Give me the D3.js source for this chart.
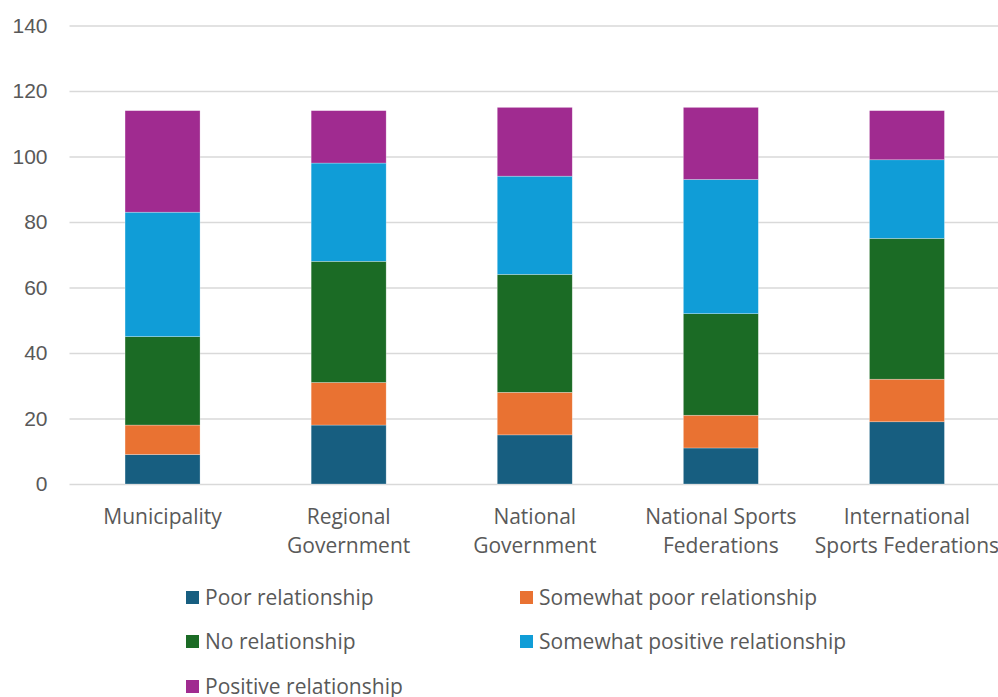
<!DOCTYPE html>
<html>
<head>
<meta charset="utf-8">
<script src="https://cdn.jsdelivr.net/npm/d3@7"></script>
<style>
  html, body { margin: 0; padding: 0; background: #fff; }
  svg { display: block; font-family: "Open Sans", "Noto Sans", sans-serif; }
</style>
</head>
<body>
<svg id="chart" width="998" height="697"></svg>
<script>
// Stakeholder groups along the x axis (each label split into its two lines)
const categories = ["Municipality", "Regional Government", "National Government", "National Sports Federations", "International Sports Federations"];
const categoryLines = [["Municipality"], ["Regional", "Government"], ["National", "Government"], ["National Sports", "Federations"], ["International", "Sports Federations"]];

// Relationship ratings, stacked bottom to top
const seriesNames = ["Poor relationship", "Somewhat poor relationship", "No relationship", "Somewhat positive relationship", "Positive relationship"];
const poor            = [9, 18, 15, 11, 19];
const somewhatPoor    = [9, 13, 13, 10, 13];
const noRelationship  = [27, 37, 36, 31, 43];
const somewhatPositive= [38, 30, 30, 41, 24];
const positive        = [31, 16, 21, 22, 15];
const seriesColors = ["#175E80", "#E97232", "#1B6B25", "#109DD7", "#A02B90"];

const yTicks = [0, 20, 40, 60, 80, 100, 120, 140];

const seriesValues = [poor, somewhatPoor, noRelationship, somewhatPositive, positive];
const rows = categories.map((c, i) => {
  const r = { category: c };
  seriesNames.forEach((s, k) => r[s] = seriesValues[k][i]);
  return r;
});

const svg = d3.select("#chart");
const margin = { left: 69.5, top: 25.5 };
const plotW = 930.5, plotH = 458.5;
const fontSize = "21px";

const x = d3.scaleBand().domain(categories).range([margin.left, margin.left + plotW]).paddingInner(0.597).paddingOuter(0.2985);
const y = d3.scaleLinear().domain([0, 140]).range([margin.top + plotH, margin.top]);

// Horizontal gridlines and left tick labels
const yAxis = d3.axisLeft(y).tickValues(yTicks).tickSize(-1000).tickPadding(24);
const gy = svg.append("g").attr("transform", `translate(${margin.left},0)`).call(yAxis);
gy.select(".domain").remove();
gy.selectAll(".tick line").attr("x2", 1000).attr("stroke", "#D9D9D9").attr("stroke-width", 1.3);
gy.selectAll(".tick text").attr("fill", "#595959").style("font-size", fontSize).attr("x", -22);

// Stacked bars
const stack = d3.stack().keys(seriesNames)(rows);
svg.append("g").selectAll("g").data(stack).join("g")
  .attr("fill", (d, i) => seriesColors[i])
  .selectAll("rect").data(d => d).join("rect")
  .attr("x", d => x(d.data.category))
  .attr("width", x.bandwidth())
  .attr("y", d => y(d[1]))
  .attr("height", d => y(d[0]) - y(d[1]))
  .attr("stroke", "rgba(255,255,255,0.45)")
  .attr("stroke-width", 0.6);

// Category labels below the axis
const xl = svg.append("g");
categories.forEach((c, i) => {
  const cx = x(c) + x.bandwidth() / 2;
  const t = xl.append("text")
    .attr("x", cx)
    .attr("y", 524)
    .attr("text-anchor", "middle")
    .attr("fill", "#595959")
    .style("font-size", fontSize);
  categoryLines[i].forEach((line, j) => {
    t.append("tspan").attr("x", cx).attr("dy", j === 0 ? 0 : 29).text(line);
  });
});

// Legend in two columns
const legendCols = [186, 520];
const legendRows = [598, 642, 687];
const legend = svg.append("g");
seriesNames.forEach((s, i) => {
  const lx = legendCols[i % 2], ly = legendRows[Math.floor(i / 2)];
  legend.append("rect").attr("x", lx).attr("y", ly - 7).attr("width", 13).attr("height", 13).attr("fill", seriesColors[i]);
  legend.append("text").attr("x", lx + 19).attr("y", ly).attr("dy", "0.35em")
    .attr("fill", "#595959").style("font-size", fontSize).text(s);
});
</script>
</body>
</html>
